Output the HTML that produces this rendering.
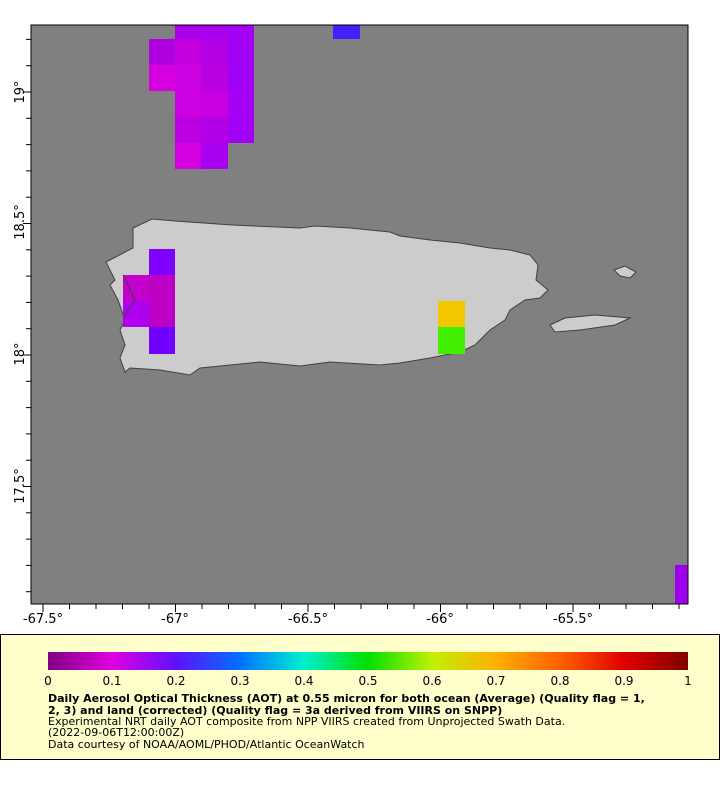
<!DOCTYPE html><html><head><style>body{margin:0;background:#fff;width:720px;height:800px;overflow:hidden;font-family:"DejaVu Sans","Liberation Sans",sans-serif}</style></head><body>
<svg width="720" height="800" xmlns="http://www.w3.org/2000/svg" style="position:absolute;left:0;top:0">
<rect x="31" y="25" width="657" height="579" fill="#808080"/>
<g stroke="#404040" stroke-width="1" fill="#cccccc">
<polygon points="106,262 133,248 133,228 152,219 175,221 232,225 300,228 315,226 350,228 390,232 400,236 415,238 430,240 460,243 490,248 510,250 530,255 538,265 536,280 548,290 540,298 525,300 510,310 505,320 490,330 475,345 460,352 430,358 400,363 380,365 330,362 300,366 260,362 230,365 200,368 190,375 160,370 130,368 125,372 120,358 125,345 120,330 125,320 118,300 110,285 115,280"/>
<polygon points="550,325 565,318 595,315 630,318 615,325 580,330 555,332"/>
<polygon points="614,270 625,266 636,272 630,278 620,276"/>
</g>
<g>
<rect x="175" y="25" width="27" height="14" fill="#a800ec"/><rect x="201" y="25" width="27" height="14" fill="#a800ec"/><rect x="228" y="25" width="26" height="14" fill="#a400f4"/>
<rect x="149" y="39" width="26" height="26" fill="#b000e0"/><rect x="175" y="39" width="26" height="26" fill="#c400e0"/><rect x="201" y="39" width="27" height="26" fill="#b400e4"/><rect x="228" y="39" width="26" height="26" fill="#a000f4"/>
<rect x="149" y="65" width="26" height="26" fill="#d400e0"/><rect x="175" y="65" width="26" height="26" fill="#cc00e0"/><rect x="201" y="65" width="27" height="26" fill="#b800e0"/><rect x="228" y="65" width="26" height="26" fill="#a000f4"/>
<rect x="175" y="91" width="26" height="26" fill="#cc00e0"/><rect x="201" y="91" width="27" height="26" fill="#c800e0"/><rect x="228" y="91" width="26" height="26" fill="#a400f4"/>
<rect x="175" y="117" width="26" height="26" fill="#bc00e4"/><rect x="201" y="117" width="27" height="26" fill="#b400e8"/><rect x="228" y="117" width="26" height="26" fill="#a000f4"/>
<rect x="175" y="143" width="26" height="26" fill="#d400e0"/><rect x="201" y="143" width="27" height="26" fill="#a800f0"/>
<rect x="333" y="25" width="27" height="14" fill="#4420ff"/>
<rect x="149" y="249" width="26" height="26" fill="#8000ff"/>
<rect x="123" y="275" width="26" height="26" fill="#c400cc"/><rect x="149" y="275" width="26" height="26" fill="#bc00c4"/>
<rect x="123" y="301" width="26" height="26" fill="#b000f0"/><rect x="149" y="301" width="26" height="26" fill="#bc00c4"/>
<rect x="149" y="327" width="26" height="27" fill="#7000ff"/>
<rect x="438" y="301" width="27" height="26" fill="#f4c800"/><rect x="438" y="327" width="27" height="27" fill="#40f000"/>
<rect x="675" y="565" width="13" height="39" fill="#a000f0"/>
</g>
<polyline points="123,275 135,300 123,318" fill="none" stroke="#404040"/>
<rect x="31" y="25" width="657" height="579" fill="none" stroke="#000" stroke-width="1"/>
<g stroke="#000" stroke-width="1" id="ticks"></g>
<g font-size="13" fill="#000" text-anchor="middle">
<text x="43" y="623">-67.5°</text><text x="175" y="623">-67°</text><text x="308" y="623">-66.5°</text><text x="440" y="623">-66°</text><text x="573" y="623">-65.5°</text>
<text transform="translate(24,92) rotate(-90)">19°</text>
<text transform="translate(24,222) rotate(-90)">18.5°</text>
<text transform="translate(24,354) rotate(-90)">18°</text>
<text transform="translate(24,486) rotate(-90)">17.5°</text>
</g>
<rect x="0.5" y="634.5" width="719" height="125" fill="#ffffcc" stroke="#000"/>
<defs><linearGradient id="cb"><stop offset="0" stop-color="#800080"/><stop offset="0.1" stop-color="#e000e0"/><stop offset="0.2" stop-color="#6010ff"/><stop offset="0.3" stop-color="#0070ff"/><stop offset="0.4" stop-color="#00f0d0"/><stop offset="0.5" stop-color="#00e000"/><stop offset="0.6" stop-color="#c0f000"/><stop offset="0.7" stop-color="#ffb000"/><stop offset="0.8" stop-color="#ff6000"/><stop offset="0.9" stop-color="#e00000"/><stop offset="1" stop-color="#800000"/></linearGradient></defs>
<rect x="48" y="652" width="640" height="18" fill="url(#cb)"/>
<g font-size="12" text-anchor="middle">
<text x="48" y="685">0</text><text x="112" y="685">0.1</text><text x="176" y="685">0.2</text><text x="240" y="685">0.3</text><text x="304" y="685">0.4</text><text x="368" y="685">0.5</text><text x="432" y="685">0.6</text><text x="496" y="685">0.7</text><text x="560" y="685">0.8</text><text x="624" y="685">0.9</text><text x="688" y="685">1</text>
</g>
<g font-size="11">
<text x="48" y="702" font-weight="bold">Daily Aerosol Optical Thickness (AOT) at 0.55 micron for both ocean (Average) (Quality flag = 1,</text>
<text x="48" y="714" font-weight="bold">2, 3) and land (corrected) (Quality flag = 3a derived from VIIRS on SNPP)</text>
<text x="48" y="725">Experimental NRT daily AOT composite from NPP VIIRS created from Unprojected Swath Data.</text>
<text x="48" y="736">(2022-09-06T12:00:00Z)</text>
<text x="48" y="748">Data courtesy of NOAA/AOML/PHOD/Atlantic OceanWatch</text>
</g>
</svg>
<script>
var g=document.getElementById('ticks'),s='';
for(var i=0;i<25;i++){var x=43+i*26.5;if(x>688)break;var L=(i%5==0)?8:5;s+='<line x1="'+x+'" y1="604" x2="'+x+'" y2="'+(604+L)+'"/>';}
for(var j=-3;j<22;j++){var y=92+j*26.3;if(y<25||y>604)continue;var L=(((j%5)+5)%5==0)?8:5;s+='<line x1="31" y1="'+y+'" x2="'+(31-L)+'" y2="'+y+'"/>';}
for(var k=0;k<=10;k++){var x=48+k*64;s+='<line x1="'+x+'" y1="670" x2="'+x+'" y2="674"/>';}
g.innerHTML=s;
</script>
</body></html>
